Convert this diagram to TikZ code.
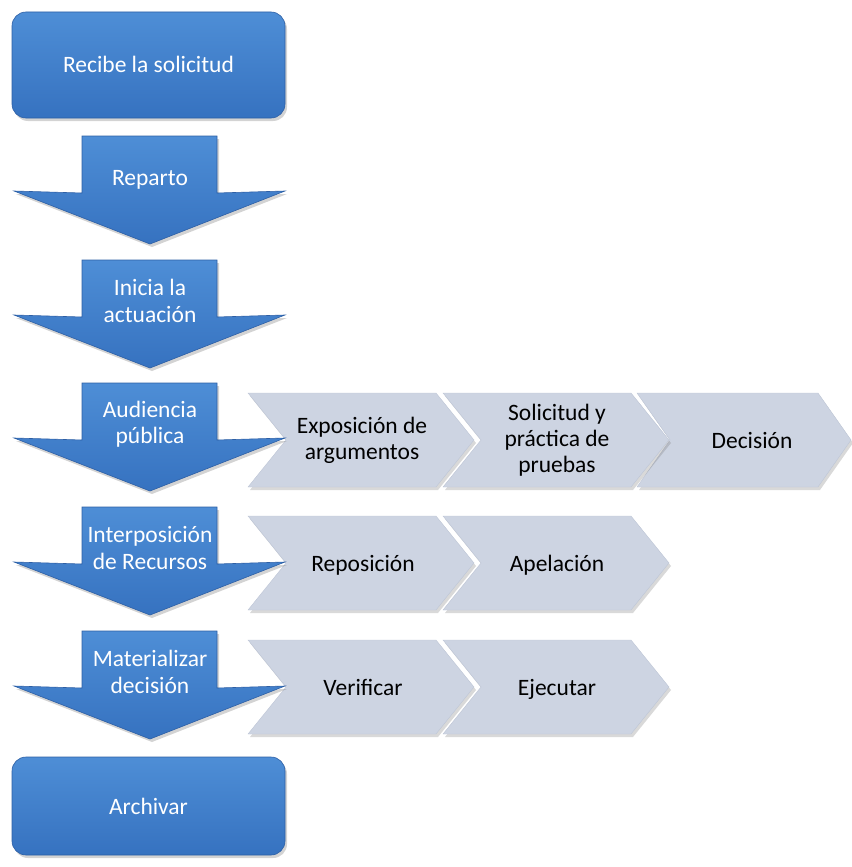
\documentclass[tikz,border=0pt]{standalone}
\usepackage{fontspec}
\setmainfont{Carlito}
\usetikzlibrary{shadows}
\definecolor{boxtop}{RGB}{78,142,214}
\definecolor{boxbot}{RGB}{54,114,192}
\definecolor{boxedge}{RGB}{45,95,165}
\definecolor{chevfill}{RGB}{205,212,226}
\definecolor{chevedge}{RGB}{190,198,214}
\begin{document}
\begin{tikzpicture}[x=1pt,y=-1pt,
  bluebox/.style={rounded corners=14pt, top color=boxtop, bottom color=boxbot, draw=boxedge, line width=0.6pt,
     drop shadow={shadow xshift=2pt,shadow yshift=-3pt,opacity=0.35}},
  arrowshape/.style={top color=boxtop, bottom color=boxbot, draw=boxedge, line width=0.6pt, line join=miter,
     drop shadow={shadow xshift=2pt,shadow yshift=-3pt,opacity=0.35}},
  chev/.style={fill=chevfill, draw=chevedge, line width=0.4pt,
     drop shadow={shadow xshift=2pt,shadow yshift=-3pt,opacity=0.3}},
  oneline/.style={text height=16pt, text depth=0pt},
  multi/.style={},
  wlabel/.style={text=white, font=\fontsize{23.5}{26.5}\selectfont, align=center, inner sep=0pt},
  dlabel/.style={text=black, font=\fontsize{23.5}{26}\selectfont, align=center, inner sep=0pt}]
\useasboundingbox (0,0) rectangle (851,867);

% chevrons (drawn first, behind arrows)
\newcommand{\mychevron}[8]{% #1 L, #2 yc, #3 W, #4 d, #5 name, #6 text x, #7 style, #8 text
  \path[chev] (#1,#2-47) -- (#1+#3,#2-47) -- (#1+#3+#4,#2) -- (#1+#3,#2+47) -- (#1,#2+47) -- (#1+#4,#2) -- cycle;
  \node[dlabel,#7] (#5) at (#6,#2) {#8};}

\mychevron{637}{440}{181}{33}{dec}{752}{oneline}{Decisión}
\mychevron{443}{440}{188}{38}{sol}{557}{multi}{Solicitud y\\práctica de\\pruebas}
\mychevron{248}{440}{188}{38}{exp}{362}{multi}{Exposición de\\argumentos}

\mychevron{443}{563}{188}{38}{ape}{557}{oneline}{Apelación}
\mychevron{248}{563}{188}{38}{rep}{363}{oneline}{Reposición}

\mychevron{443}{687}{188}{38}{eje}{557}{oneline}{Ejecutar}
\mychevron{248}{687}{188}{38}{ver}{363}{oneline}{Verificar}

% top box
\path[bluebox] (12,12) rectangle (285,118);
\node[wlabel,oneline] (recibe) at (148.5,65) {Recibe la solicitud};

% down arrows
\newcommand{\mydownarrow}[4]{% #1 top y, #2 name, #3 style, #4 text
  \path[arrowshape] (82,#1) -- (217,#1) -- (217,#1+57) -- (285,#1+55) -- (150,#1+108) -- (14,#1+55) -- (82,#1+57) -- cycle;
  \node[wlabel,#3] (#2) at (150,#1+41) {#4};}

\mydownarrow{136}{reparto}{oneline}{Reparto}
\mydownarrow{260}{inicia}{multi}{Inicia la\\actuación}
\mydownarrow{383}{audiencia}{multi}{Audiencia\\pública}
\mydownarrow{507}{interp}{multi}{Interposición\\de Recursos}
\mydownarrow{631}{mater}{multi}{Materializar\\decisión}

% bottom box
\path[bluebox] (12,757) rectangle (285,855);
\node[wlabel,oneline] (archivar) at (148.5,806) {Archivar};
\end{tikzpicture}
\end{document}
